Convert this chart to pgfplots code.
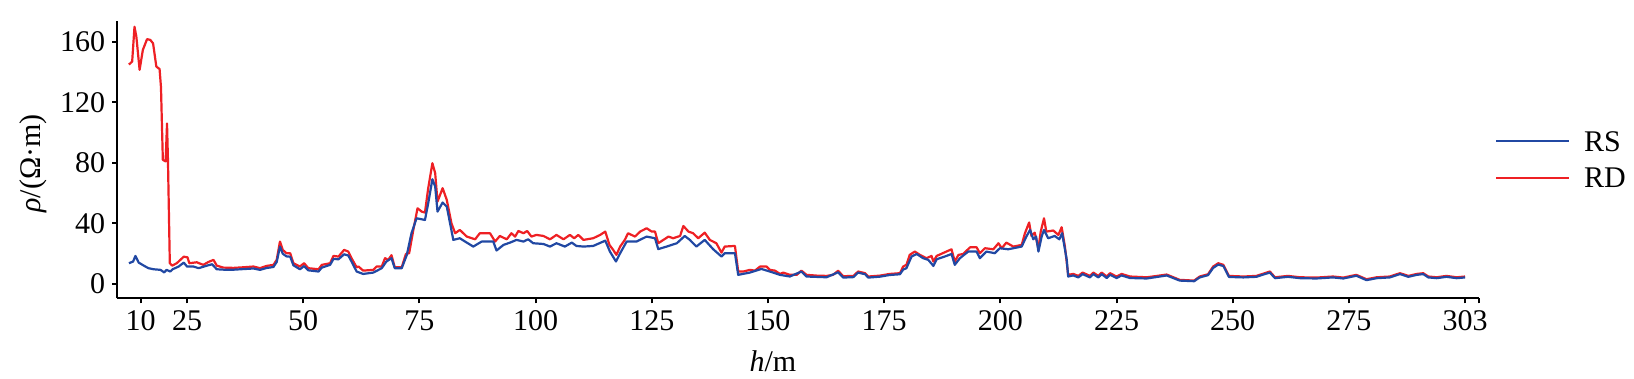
\documentclass[border=0pt]{standalone}
\usepackage{fontspec}
\setmainfont{Liberation Serif}
\usepackage{pgfplots}
\pgfplotsset{compat=1.18}
\definecolor{rsblue}{RGB}{33,72,163}
\definecolor{rdred}{RGB}{238,32,36}
\newcommand{\fs}{\fontsize{15}{18}\selectfont}
\begin{document}
\begin{tikzpicture}
\begin{axis}[name=ax,
 scale only axis, width=680.85pt, height=138.8pt,
 xmin=10, xmax=303, ymin=-9.5, ymax=174,
 axis x line*=bottom, axis y line*=left,
 axis line style={line width=1pt, black},
 every tick/.style={black, line width=1pt},
 tick align=outside, major tick length=2.5pt,
 xtick={15,25,50,75,100,125,150,175,200,225,250,275,300,303},
 xticklabels={10,25,50,75,100,125,150,175,200,225,250,275,303,{}},
 ytick={0,40,80,120,160},
 tick label style={font=\fs},
 /pgf/number format/assume math mode=true,
 xlabel={\textit{h}/m}, ylabel={\textit{ρ}/(Ω·m)},
 label style={font=\fs},
 xlabel style={at={(axis description cs:0.4815,-0.2259)}, anchor=center},
 ylabel style={at={(axis description cs:-0.0619,0.486)}, anchor=center},
 legend style={at={(axis description cs:1.01175,0.5)}, anchor=west, draw=none, fill=none,
   inner sep=0pt, outer sep=0pt, font=\fs, row sep=8.4pt, column sep=7pt,
   nodes={inner sep=0pt, text height=9.9pt, text depth=0pt}},
 legend cell align=left,
 legend image code/.code={\draw[#1] (0pt,0pt) -- (36.5pt,0pt);},
 reverse legend,
 line join=round,
]
\addplot[rdred, line width=1.1pt] coordinates {
(12.5,145)(13.2,147)(13.7,170)(14.1,163.5)(14.8,141.5)(15.5,154.7)(16.4,161.8)(17.1,161.3)(17.7,159)(18.4,143.7)(19.1,142)(19.4,130)(19.8,82)(20.4,81)(20.7,106)(20.9,82)(21.3,13.7)(21.8,12.1)(22.8,13.7)(24.3,18)(25.1,17.6)(25.5,13.7)(27.1,14.3)(28.5,12.6)(29.6,14.5)(30.7,15.9)(31.4,12.1)(32.8,10.8)(35,10.6)(37.1,11)(39.3,11.5)(40.7,10.4)(42.1,11.9)(43.6,12.6)(44.3,15.9)(45,28)(45.6,22.5)(46.4,20.3)(47.2,20.3)(47.9,13.7)(49.3,11.5)(50.2,13.7)(51.1,10.4)(53.3,9.7)(54,12.6)(55.8,13.7)(56.5,18.5)(57.6,18.1)(58.8,22.5)(59.7,21.4)(60.4,17)(61.5,11)(61.9,11.5)(62.9,8.8)(65.1,9.3)(65.8,11.5)(66.9,11.5)(67.6,17)(68.3,15.9)(69,19)(69.7,11)(71.2,11)(72.1,19.8)(72.8,20.3)(73.7,35.7)(74.6,50)(75.5,47.8)(76.2,47.2)(76.9,63.3)(77.8,79.8)(78.4,73.2)(78.9,54.4)(80,63.3)(80.9,55.5)(81.9,40.1)(82.7,33.5)(83.7,35.7)(85.2,31.3)(87,29.5)(88,33.5)(90.2,33.5)(91.3,28)(92.3,31.7)(93.8,29.5)(94.8,33.5)(95.6,31.3)(96.3,35)(97.4,33.5)(98.2,35)(99.1,31.3)(100.2,32.4)(101.7,31.7)(103.1,29.5)(104.5,32.4)(106,29.5)(107.4,32.4)(108.3,30.2)(109.2,32.4)(110.3,29.1)(112.4,30.2)(113.9,32.4)(115,34.6)(115.9,25.8)(116.7,22.5)(117.4,19.2)(118.2,24.7)(119.2,29.1)(119.9,33.5)(121.4,31.3)(122.5,34.6)(123.9,36.8)(125,34.6)(125.7,34.6)(126.4,26.9)(127.5,29.1)(128.6,31.3)(129.6,30.2)(131.1,31.7)(131.8,38.3)(132.9,34.6)(133.9,33.5)(135,30.2)(136.4,33.9)(137.5,29.1)(138.9,26.9)(140,20.7)(140.7,24.7)(142.9,25.1)(143.6,8.2)(144.7,8.2)(146.1,9.3)(147.2,8.8)(148.3,11.5)(149.7,11.5)(150.4,9.3)(151.5,8.8)(152.6,6.6)(153.3,7.5)(154.7,6)(156.2,6)(157.2,8.8)(158.3,6)(160.5,5.5)(162.6,5.3)(164,6)(165.1,8.7)(166.2,5.1)(168.4,5.3)(169.4,8.2)(170.9,7.1)(171.6,4.9)(174.1,5.5)(176.2,6.6)(178.4,7.1)(179.1,11.5)(179.8,12.6)(180.5,19.2)(181.6,21.4)(182.7,19.2)(184.1,17)(185.2,18.5)(185.6,14.8)(186.3,18.5)(188.4,21.4)(189.5,22.9)(190.2,14.8)(191,19.2)(192,19.8)(193.5,24.2)(194.9,24.2)(195.6,20.3)(196.7,23.6)(198.5,22.9)(199.6,26.9)(200.3,23.6)(201.3,27.3)(202.8,24.7)(204.6,25.8)(205.3,33.5)(206.2,40.6)(206.7,31.7)(207.4,33.9)(208.2,23.6)(208.7,34.6)(209.4,43.4)(209.9,34.6)(211.4,35.3)(212.5,32.4)(213.2,37.5)(213.9,24.7)(214.6,6)(215.7,6.6)(216.8,5.3)(217.7,7.5)(219.3,5.3)(220,7.5)(221.1,5.3)(221.8,7.5)(222.9,4.9)(223.6,7.1)(225,4.9)(226.1,6.6)(227.9,4.9)(231.5,4.4)(233.5,5.2)(235.8,6.2)(238.6,2.7)(241.7,2.2)(242.9,4.9)(244.7,6.4)(245.8,11.5)(246.9,13.7)(248,12.6)(249.2,5.3)(252.3,4.9)(255.1,5.3)(256.9,7.1)(258,8.2)(259.1,4.4)(261.9,5.3)(264.5,4.4)(268,4.2)(271.6,4.9)(273.8,4.2)(276.6,6)(278.8,3.1)(281,4.4)(283.8,4.9)(286,7.1)(287.8,5.3)(289.6,6.6)(291,7.1)(292.1,4.9)(293.9,4.4)(296,5.3)(298.2,4.4)(300,4.9)
};
\addlegendentry{RD}
\addplot[rsblue, line width=1.1pt] coordinates {
(12.5,13.7)(13.4,14.8)(13.9,18.5)(14.6,14.1)(15.7,12.1)(16.7,10.4)(17.8,9.7)(19.3,9.3)(20.1,7.6)(20.6,9.3)(21.4,8.2)(21.9,9.7)(23.2,11.5)(24.3,14.1)(25,11.5)(26.4,11.5)(27.5,10.4)(29.3,12.1)(30.4,13)(31.4,9.7)(33.6,9.3)(35,9.4)(37.1,9.8)(39.3,10.2)(40.7,9.3)(42.1,10.5)(43.6,11.2)(44.3,14.5)(45,24.7)(45.6,20)(46.4,18.2)(47.2,18)(47.9,12.3)(49.3,9.7)(50.2,11.8)(51.1,9)(53.3,8.2)(54,10.8)(55.8,12.6)(56.5,16.5)(57.6,16.3)(58.8,19.6)(59.7,18.8)(60.4,14.8)(61.5,8.2)(62.9,6.6)(65.1,7.5)(66.9,10.4)(67.9,14.8)(69,17)(69.7,10.4)(71.2,10.4)(72.3,19.2)(73.3,33.5)(74.4,43.4)(76.2,42.3)(76.9,53.3)(77.8,69.2)(78.4,64.4)(78.9,47.8)(80,53.8)(80.9,51.1)(82.3,29.1)(83.7,30.2)(85.2,27.3)(86.6,24.7)(88.4,28)(90.9,28)(91.6,22.1)(93.1,25.8)(94.5,27.3)(95.9,29.1)(97.4,28)(98.4,29.5)(99.5,26.9)(101.7,26.4)(103.1,24.7)(104.5,26.9)(106.3,24.7)(107.8,27.3)(108.8,25.1)(110.3,24.7)(112.4,25.1)(115,28.6)(116,21.4)(117.3,14.8)(118.2,20.3)(119.6,28)(121.7,28)(123.9,31.3)(125.7,30.2)(126.4,23)(128.2,24.7)(130.4,26.9)(132.1,31.7)(133.2,29.1)(134.6,24.7)(136.4,29.1)(138.2,23)(140,18.1)(140.7,20.3)(142.9,20.3)(143.6,6)(146.1,7.5)(148.6,9.9)(150.4,8.2)(152.6,6)(154.7,4.9)(157.2,8.2)(158.3,4.9)(162.6,4.4)(165.1,7.7)(166.2,4.2)(168.4,4.5)(169.4,7.5)(170.9,6.4)(171.6,4.2)(174.1,4.8)(176.2,5.9)(178.4,6.4)(179.1,9.5)(179.8,10.4)(180.9,18.1)(182,19.8)(183.4,17)(184.5,15.9)(185.6,11.9)(186.3,16.3)(188.4,18.5)(189.5,19.8)(190.2,12.6)(191.3,17)(193.1,21.4)(194.9,21.4)(195.6,17)(197,21.4)(198.8,20.3)(199.9,23.6)(201.7,22.9)(204.6,24.7)(205.6,31.3)(206.4,35.7)(207.1,29.5)(207.7,31.3)(208.2,21.4)(208.9,31.3)(209.4,35.7)(210.3,30.2)(211.7,31.7)(212.7,29.5)(213.3,33.5)(214.3,15.9)(214.6,4.9)(215.7,5.6)(216.8,4.3)(217.7,6.5)(219.3,4.3)(220,6.5)(221.1,4.3)(221.8,6.5)(222.9,3.9)(223.6,6.1)(225,3.9)(226.1,5.6)(227.9,3.9)(231.5,3.6)(233.5,4.5)(235.8,5.6)(238.6,2.2)(241.7,1.8)(242.9,4.3)(244.7,5.8)(245.8,10.6)(246.9,12.8)(248,11.8)(249.2,4.6)(252.3,4.3)(255.1,4.7)(256.9,6.5)(258,7.5)(259.1,3.8)(261.9,4.7)(264.5,3.8)(268,3.6)(271.6,4.3)(273.8,3.6)(276.6,5.4)(278.8,2.5)(281,3.8)(283.8,4.3)(286,6.5)(287.8,4.7)(289.6,6)(291,6.5)(292.1,4.3)(293.9,3.8)(296,4.7)(298.2,3.8)(300,4.3)
};
\addlegendentry{RS}
\end{axis}
\pgfresetboundingbox
\path ([xshift=-58.65pt,yshift=-40.35pt]ax.south west) rectangle ([xshift=77.5pt,yshift=10.35pt]ax.north east);
\end{tikzpicture}
\end{document}
